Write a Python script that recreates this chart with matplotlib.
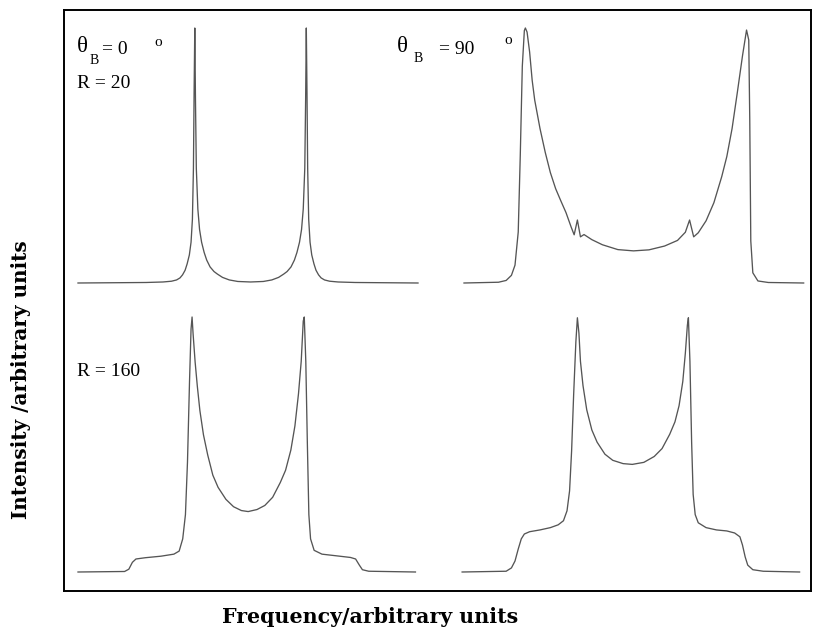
import matplotlib
matplotlib.use("Agg")
import matplotlib.pyplot as plt

# ---------------- data (frequency in arbitrary units, intensity normalised) -------------
# theta_B = 0 deg, R = 20
f_0_20 = [-1.0, -0.6, -0.5, -0.45, -0.42, -0.40, -0.385, -0.37, -0.358, -0.345, -0.335,
          -0.327, -0.321, -0.317, -0.313, -0.309, -0.304, -0.295, -0.285, -0.273, -0.258,
          -0.243, -0.223, -0.2, -0.18, -0.15, -0.11, -0.06, 0.015,
          0.09, 0.14, 0.18, 0.21, 0.23, 0.253, 0.273, 0.288, 0.303, 0.315, 0.325, 0.334,
          0.339, 0.343, 0.347, 0.351, 0.357, 0.365, 0.375, 0.388, 0.40, 0.415, 0.43, 0.45,
          0.48, 0.53, 0.63, 1.0]
i_0_20 = [0.0, 0.002, 0.004, 0.007, 0.012, 0.02, 0.032, 0.05, 0.075, 0.11, 0.16,
          0.25, 0.45, 0.75, 1.0, 0.72, 0.45, 0.29, 0.21, 0.16, 0.12,
          0.09, 0.063, 0.045, 0.035, 0.022, 0.012, 0.006, 0.004,
          0.006, 0.012, 0.022, 0.035, 0.045, 0.063, 0.09, 0.12, 0.16, 0.21, 0.29, 0.45,
          0.72, 1.0, 0.75, 0.45, 0.25, 0.16, 0.11, 0.075, 0.05, 0.032, 0.02, 0.012,
          0.007, 0.004, 0.002, 0.0]

# theta_B = 90 deg, R = 20
f_90_20 = [-1.0, -0.797, -0.752, -0.721, -0.70, -0.681, -0.669, -0.657, -0.645, -0.639,
           -0.629, -0.614, -0.599, -0.584, -0.553, -0.522, -0.492, -0.461, -0.431, -0.40,
           -0.37, -0.352, -0.333, -0.315, -0.294, -0.248, -0.186, -0.095, -0.003, 0.088,
           0.18, 0.256, 0.302, 0.327, 0.351, 0.378, 0.424, 0.47, 0.516, 0.546, 0.577,
           0.608, 0.638, 0.662, 0.675, 0.681, 0.687, 0.699, 0.729, 0.79, 0.998]
i_90_20 = [0.0, 0.003, 0.01, 0.03, 0.07, 0.2, 0.5, 0.85, 0.99, 1.0,
           0.984, 0.906, 0.795, 0.717, 0.606, 0.512, 0.433, 0.37, 0.323, 0.276,
           0.22, 0.189, 0.247, 0.181, 0.19, 0.17, 0.15, 0.131, 0.126, 0.13,
           0.145, 0.167, 0.199, 0.247, 0.181, 0.197, 0.244, 0.315, 0.417, 0.496, 0.606,
           0.748, 0.89, 0.992, 0.953, 0.638, 0.165, 0.04, 0.008, 0.002, 0.0]

# theta_B = 0 deg, R = 160
f_0_160 = [-1.0, -0.726, -0.701, -0.68, -0.659, -0.604, -0.512, -0.436, -0.405, -0.384,
           -0.368, -0.356, -0.344, -0.335, -0.329, -0.323, -0.311, -0.298, -0.283, -0.262,
           -0.237, -0.207, -0.176, -0.13, -0.085, -0.039, 0.001, 0.053, 0.099, 0.145,
           0.19, 0.221, 0.252, 0.276, 0.297, 0.313, 0.325, 0.331, 0.34, 0.349, 0.358,
           0.368, 0.389, 0.435, 0.526, 0.603, 0.633, 0.655, 0.673, 0.71, 0.985]
i_0_160 = [0.0, 0.002, 0.011, 0.038, 0.051, 0.056, 0.062, 0.07, 0.082, 0.13,
           0.225, 0.431, 0.747, 0.953, 1.0, 0.934, 0.823, 0.728, 0.633, 0.538,
           0.459, 0.38, 0.332, 0.285, 0.256, 0.241, 0.237, 0.245, 0.261, 0.293,
           0.351, 0.399, 0.478, 0.573, 0.699, 0.826, 0.984, 1.0, 0.826, 0.509, 0.225,
           0.13, 0.085, 0.07, 0.063, 0.057, 0.051, 0.027, 0.009, 0.003, 0.0]

# theta_B = 90 deg, R = 160
f_90_160 = [-1.011, -0.752, -0.721, -0.70, -0.681, -0.663, -0.645, -0.614, -0.553, -0.492,
            -0.446, -0.415, -0.394, -0.379, -0.367, -0.355, -0.342, -0.333, -0.324, -0.315,
            -0.30, -0.278, -0.248, -0.217, -0.171, -0.125, -0.064, -0.01, 0.058, 0.119,
            0.165, 0.21, 0.241, 0.265, 0.287, 0.302, 0.314, 0.32, 0.329, 0.339, 0.348,
            0.36, 0.378, 0.424, 0.485, 0.546, 0.592, 0.623, 0.638, 0.654, 0.669, 0.699,
            0.76, 0.974]
i_90_160 = [0.0, 0.003, 0.016, 0.043, 0.09, 0.13, 0.149, 0.158, 0.165, 0.174,
            0.185, 0.201, 0.24, 0.318, 0.475, 0.696, 0.902, 0.997, 0.937, 0.826,
            0.731, 0.636, 0.557, 0.509, 0.462, 0.438, 0.425, 0.422, 0.43, 0.453,
            0.484, 0.54, 0.589, 0.652, 0.747, 0.858, 0.968, 0.997, 0.826, 0.509, 0.304,
            0.225, 0.193, 0.174, 0.165, 0.161, 0.153, 0.138, 0.106, 0.059, 0.027, 0.009,
            0.003, 0.0]

theta_labels = ("0", "90")
r_labels = ("20", "160")

# ---------------- figure ----------------
W, H = 814, 630
fig = plt.figure(figsize=(W / 100, H / 100), dpi=100)


def rect(x0, y0, x1, y1):
    """pixel box (top-left origin) -> figure fraction rect"""
    return [x0 / W, 1 - y1 / H, (x1 - x0) / W, (y1 - y0) / H]


frame = fig.add_axes(rect(64, 10, 811, 591))
frame.set_xticks([])
frame.set_yticks([])
for s in frame.spines.values():
    s.set_linewidth(1.4)
    s.set_color("black")

line_kw = dict(color="#555555", lw=0.95, clip_on=False, solid_joinstyle="round")

panels = [
    (rect(78, 28, 418, 283), f_0_20, i_0_20),
    (rect(464, 28, 804, 283), f_90_20, i_90_20),
    (rect(78, 317, 418, 572), f_0_160, i_0_160),
    (rect(464, 317, 804, 572), f_90_160, i_90_160),
]
for r, f, i in panels:
    ax = fig.add_axes(r)
    ax.plot(f, i, **line_kw)
    ax.set_xlim(-1, 1)
    ax.set_ylim(0, 1)
    ax.axis("off")

serif = ["Liberation Serif", "DejaVu Serif"]


def ftxt(x, y, s, size=14, ha="left"):
    fig.text(x / W, 1 - y / H, s, family=serif, fontsize=size, color="black",
             va="center", ha=ha)


# panel annotations (theta_B = 0, R = 20)
ftxt(77, 47, "θ", 16.5)
ftxt(90, 61, "B", 10)
ftxt(102, 49, "= " + theta_labels[0], 14)
ftxt(154, 42, "o", 11)
ftxt(77, 83, "R = " + r_labels[0], 14)
# theta_B = 90
ftxt(397, 47, "θ", 16.5)
ftxt(414, 59, "B", 10)
ftxt(439, 49, "= " + theta_labels[1], 14)
ftxt(504, 41, "o", 11)
# R = 160
ftxt(77, 371, "R = " + r_labels[1], 14)

# axis titles
fig.text(370 / W, 1 - 617 / H, "Frequency/arbitrary units", family="DejaVu Serif",
         fontweight="bold", fontsize=14.8, ha="center", va="center")
fig.text(21 / W, 1 - 380 / H, "Intensity /arbitrary units", family="DejaVu Serif",
         fontweight="bold", fontsize=14.4, ha="center", va="center", rotation=90)

fig.savefig("out.png", dpi=100)
